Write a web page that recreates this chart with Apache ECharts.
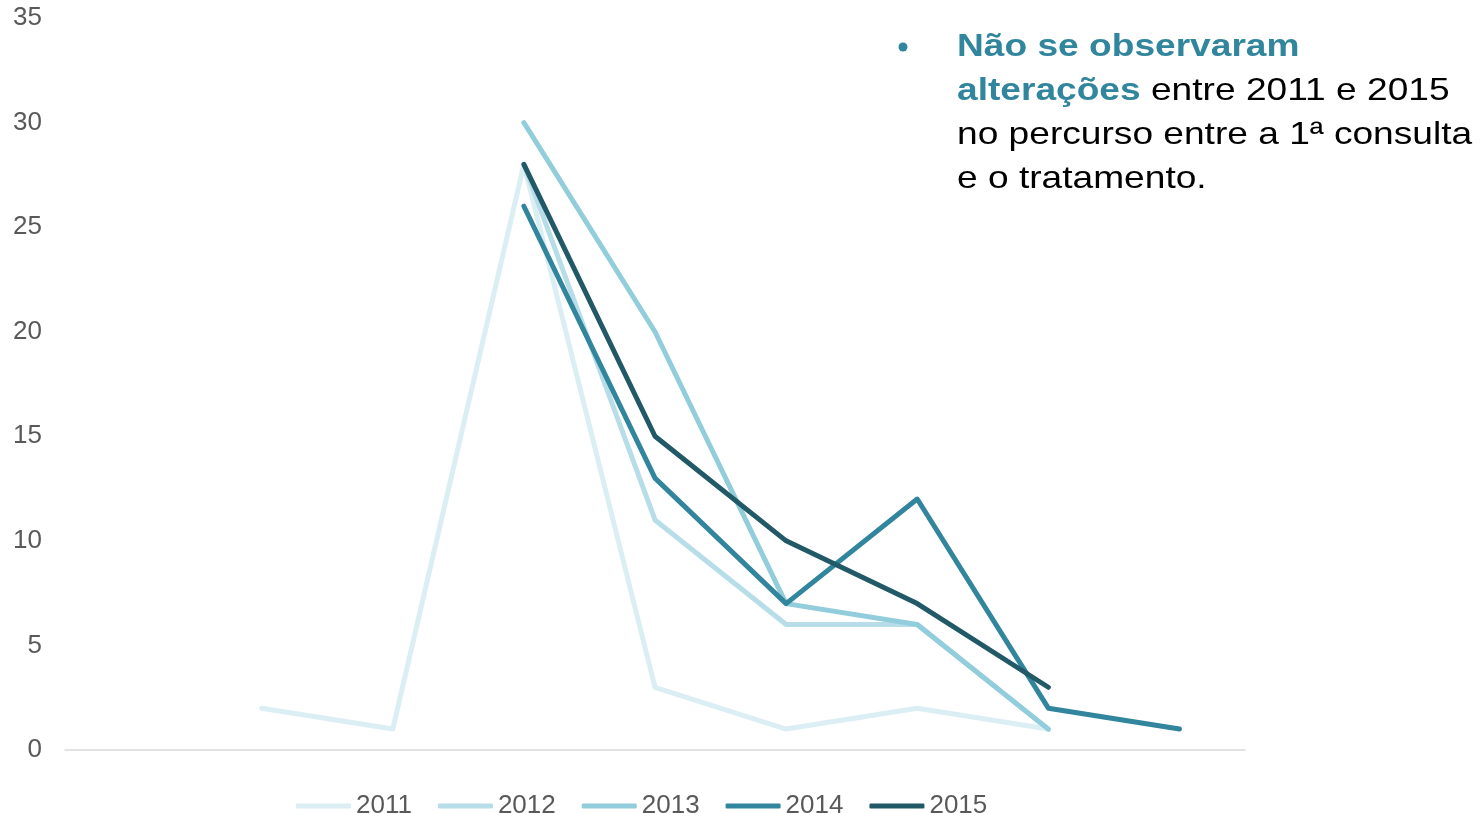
<!DOCTYPE html>
<html>
<head>
<meta charset="utf-8">
<script src="https://cdn.jsdelivr.net/npm/echarts@6/dist/echarts.min.js"></script>
<style>html,body{margin:0;padding:0;background:#fff;}#c{width:1483px;height:813px;}</style>
</head>
<body>
<div id="c"></div>
<script>
const categories = ['1', '2', '3', '4', '5', '6', '7', '8', '9'];
const seriesNames = ['2011', '2012', '2013', '2014', '2015'];
const v2011 = [null, 2, 1, 28, 3, 1, 2, 1, null];
const v2012 = [null, null, null, 28, 11, 6, 6, 1, null];
const v2013 = [null, null, null, 30, 20, 7, 6, 1, null];
const v2014 = [null, null, null, 26, 13, 7, 12, 2, 1];
const v2015 = [null, null, null, 28, 15, 10, 7, 3, null];
const yTicks = [0, 5, 10, 15, 20, 25, 30, 35];
const colors = ['#DAEEF3', '#B7DEE8', '#92CDDC', '#31859C', '#215967'];
const allValues = [v2011, v2012, v2013, v2014, v2015];
const FONT = 'Liberation Sans, Arial, sans-serif';

const chart = echarts.init(document.getElementById('c'));
chart.setOption({
  animation: false,
  textStyle: { fontFamily: FONT },
  grid: { left: 65, right: 238, top: 18, bottom: 63 },
  xAxis: {
    type: 'category',
    data: categories,
    boundaryGap: true,
    axisLine: { show: true, lineStyle: { color: '#D9D9D9', width: 1.5 } },
    axisTick: { show: false },
    axisLabel: { show: false },
    splitLine: { show: false }
  },
  yAxis: {
    type: 'value',
    min: yTicks[0],
    max: yTicks[yTicks.length - 1],
    interval: 5,
    axisLine: { show: false },
    axisTick: { show: false },
    splitLine: { show: false },
    axisLabel: { color: '#595959', fontSize: 26, margin: 23, padding: [3, 0, 0, 0], fontFamily: FONT }
  },
  legend: {
    top: 788,
    left: 291,
    icon: 'roundRect',
    itemWidth: 55,
    itemHeight: 5,
    itemGap: 26,
    textStyle: { color: '#595959', fontSize: 26, fontFamily: FONT },
    data: seriesNames
  },
  series: seriesNames.map((n, i) => ({
    name: n,
    type: 'line',
    data: allValues[i],
    symbol: 'none',
    showSymbol: false,
    connectNulls: false,
    color: colors[i],
    itemStyle: { color: colors[i] },
    lineStyle: { width: 5, color: colors[i], cap: 'round', join: 'round' },
    z: 2 + i
  })),
  graphic: [
    {
      type: 'circle',
      shape: { cx: 903, cy: 47, r: 4.5 },
      style: { fill: '#31859C' }
    },
    {
      type: 'text', x: 957, y: 25, scaleX: 1.16,
      style: {
        text: '{b|Não se observaram}\n{b|alterações} entre 2011 e 2015\nno percurso entre a 1ª consulta\ne o tratamento.',
        fill: '#000',
        fontSize: 32,
        lineHeight: 44,
        fontFamily: FONT,
        rich: {
          b: { fill: '#31859C', fontWeight: 'bold', fontSize: 32, lineHeight: 44, fontFamily: FONT }
        }
      }
    }
  ]
});
</script>
</body>
</html>
